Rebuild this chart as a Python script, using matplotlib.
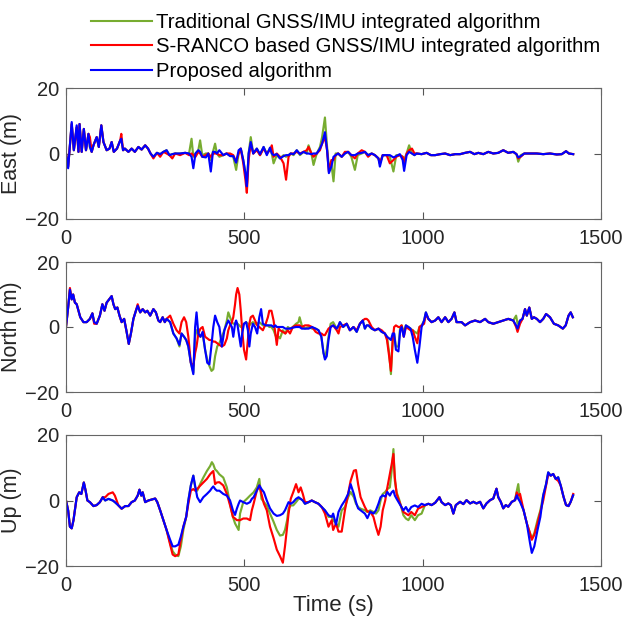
import matplotlib
matplotlib.use("Agg")
import matplotlib.pyplot as plt
from matplotlib.lines import Line2D

plt.rcParams['font.family'] = ['Liberation Sans', 'DejaVu Sans']

series_labels = ["Traditional GNSS/IMU integrated algorithm",
                 "S-RANCO based GNSS/IMU integrated algorithm",
                 "Proposed algorithm"]
panel_labels = ["East (m)", "North (m)", "Up (m)"]
x_ticks = [0, 500, 1000, 1500]
y_ticks = [-20, 0, 20]

# ---------------- East ----------------
east_t = [0, 6, 16, 22, 30, 35, 38, 44, 50, 56,
          63, 67, 72, 77, 86, 92, 99, 105, 114, 122,
          128, 134, 143, 152, 155, 160, 165, 175, 184, 193,
          203, 212, 222, 230, 237, 245, 255, 264, 273, 282,
          290, 298, 306, 320, 334, 345, 352, 357, 363, 371,
          376, 382, 392, 399, 406, 412, 418, 423, 430, 441,
          450, 460, 469, 477, 484, 490, 497, 503, 507, 512,
          518, 525, 535, 544, 554, 563, 572, 577, 582, 591,
          600, 610, 617, 624, 630, 638, 647, 656, 666, 675,
          680, 688, 694, 703, 712, 718, 726, 732, 737, 744,
          750, 756, 763, 773, 782, 791, 800, 810, 818, 829,
          838, 847, 857, 866, 876, 880, 888, 899, 908, 918,
          926, 936, 944, 948, 955, 962, 970, 977, 983, 997,
          1011, 1023, 1035, 1049, 1063, 1077, 1091, 1105, 1119, 1133,
          1145, 1156, 1170, 1184, 1198, 1212, 1226, 1240, 1254, 1263,
          1268, 1275, 1285, 1301, 1320, 1338, 1357, 1376, 1390, 1402,
          1410, 1422]
east_trad = [0, -4, 9, 1, 8, 0.5, 9, 0.5, 7.5, 1,
             6, 2, 0.5, 2.5, 5, 2, 8.6, 3.5, 1, 1.5,
             3.5, 0.5, 1.5, 4, 4.5, 1, 1.5, 0.5, 1.5, 0.5,
             2, 1.2, 2.5, 1.5, 0, -1, 0.2, -0.2, 0.5, 1,
             -0.5, -0.2, 0, 0, 0.2, 0, 4.5, -1, 0, 1,
             4, -0.5, 0, 0, -2, 0.5, 3, 0, -1, -0.5,
             0, -0.5, -1, -5, 0, 1.5, -2, -6, -10, 0,
             5, 0, 1.5, -0.5, 2, 0, 1.5, 0, -3, -0.5,
             -1.5, -0.5, -1, -0.5, 0, -0.5, 1, -0.5, 0.5, 0,
             2.5, 0, -3.5, 0, 2, 5, 11, 2, -4, -3,
             -8.5, 0, 0, -1, 0, 0.5, -1, -5, -0.5, 0,
             0.5, -0.5, 0, -0.5, -1.5, -3, -0.5, -0.5, -1, -5.5,
             -0.5, -0.5, -1, -2, 0, 2.5, 0, -0.5, 0, -0.2,
             0.2, -0.5, -0.5, -0.2, 0, -0.5, -0.2, -0.2, 0.2, 0.5,
             -0.2, 0.2, -0.2, 0.5, 0, 0.2, 1, 0.2, 0.5, -0.2,
             -2.5, -0.5, 0, 0, 0, -0.2, 0, -0.3, -0.2, 0.7,
             0, -0.2]
east_sranco = [0, -4, 9, 1, 8, 0.5, 9, 0.5, 7.5, 1,
               6, 5, 0.5, 2.5, 5, 2, 8.6, 3.5, 1, 1.5,
               3.5, 0.5, 1.5, 4, 6, 1, 1.5, 0.5, 1.5, 0.5,
               2, 1.2, 2.5, 1.5, 0, -1.5, 0.2, -1, 0.5, 0,
               -0.5, -1.5, 0, -0.5, 0.2, -0.5, 0, -0.5, -1, 0.5,
               0, -1, -0.5, 0, -1, 0, 0, 0, -0.5, -0.5,
               0, 0, -0.5, -2.5, 0, 1.5, -3, -8, -12, -2,
               3, 0, 1, -0.5, 1.5, 0, 1, 2.5, -1, 0,
               -1, -3, -8, -1, 0, 0, 0.5, 0, 0.5, 1,
               2, 0, -1, 0, 1, 3, 5, 1, -5.5, -2,
               -2, -0.5, 0, -1, 0.5, 0.5, -0.5, -1.5, 0, 1,
               0.5, -1, 0, -0.5, -1.5, -3, -0.5, -0.5, -3, -2,
               -1, -0.5, -1, -3, 0, 1, 1.5, 0, 0, -0.2,
               0.2, -0.5, -0.5, -0.2, 0, -0.5, -0.2, -0.2, 0.2, 0.5,
               -0.2, 0.2, -0.2, 0.5, 0, 0.2, 1, 0.2, 0.5, -0.2,
               -1.5, -1, 0, 0, 0, -0.2, 0, -0.3, -0.2, 0.7,
               0, -0.2]
east_prop = [0, -4.5, 9.6, 1, 8.6, 0.5, 9, 0.5, 7.5, 1,
             6, 2, 0.5, 2.5, 5, 2, 8.6, 3.5, 1, 1.5,
             3.5, 0.5, 1.5, 4, 4.5, 1, 1.5, 0.5, 1.5, 0.5,
             2, 1.2, 2.5, 1.5, 0, -1, 0.2, -0.2, 0.5, 1,
             -0.5, -0.2, 0, 0, 0.2, 0, -1, -4.5, 0, 1,
             0.5, -1, -1.2, 0, -5.5, 0.5, 0.5, 0, 1, -0.5,
             0, -0.8, -0.8, -2.8, 1, 1.5, -2, -6, -10, 0,
             3.5, 0, 1.5, -0.2, 2, -0.5, 1.8, 0, -0.5, -0.2,
             -1.5, -0.8, -0.5, -0.5, 0, -0.2, 1, -0.2, 0.5, 0,
             0, -0.2, 0, 0, 1.5, 3, 6.5, 1, -6, -4,
             -1, -0.5, 0, -1, 0, 0.5, -0.5, -0.5, 0, 0.2,
             0.5, -0.5, 0, -0.5, -1.5, -4, -0.5, -0.5, -0.5, -1.2,
             -0.8, -0.2, -2, -5.3, -0.5, 0.5, 0, -0.5, 0, -0.2,
             0.2, -0.5, -0.5, -0.2, 0, -0.5, -0.2, -0.2, 0.2, 0.5,
             -0.2, 0.2, -0.2, 0.5, 0, 0.2, 1, 0.2, 0.5, -0.2,
             -1.2, -0.8, 0, 0, 0, -0.2, 0, -0.3, -0.2, 0.7,
             0, -0.2]

# ---------------- North ----------------
north_t = [0, 6, 11, 16, 20, 25, 30, 35, 40, 49,
           58, 67, 74, 79, 86, 95, 102, 108, 114, 121,
           128, 133, 138, 144, 150, 156, 163, 170, 176, 182,
           189, 196, 201, 208, 215, 222, 228, 236, 245, 252,
           259, 264, 271, 277, 282, 292, 301, 310, 318, 324,
           331, 337, 343, 350, 357, 362, 366, 371, 377, 383,
           390, 396, 402, 408, 413, 418, 424, 430, 437, 444,
           451, 455, 460, 465, 469, 474, 477, 481, 486, 490,
           494, 499, 505, 510, 514, 518, 524, 530, 536, 542,
           547, 552, 560, 566, 570, 576, 582, 587, 591, 596,
           600, 608, 615, 622, 628, 636, 645, 652, 655, 661,
           670, 680, 690, 700, 708, 716, 722, 726, 731, 736,
           742, 749, 759, 764, 768, 777, 787, 796, 806, 815,
           824, 832, 838, 843, 848, 857, 866, 876, 885, 894,
           900, 906, 911, 916, 920, 925, 932, 937, 941, 947,
           953, 960, 966, 972, 978, 985, 991, 997, 1004, 1009,
           1016, 1025, 1035, 1044, 1053, 1063, 1072, 1081, 1089, 1095,
           1109, 1119, 1133, 1147, 1161, 1175, 1184, 1198, 1212, 1226,
           1240, 1254, 1262, 1266, 1273, 1280, 1287, 1292, 1299, 1306,
           1312, 1320, 1329, 1338, 1346, 1357, 1368, 1380, 1393, 1401,
           1409, 1415, 1421]
north_trad = [0, 6, 11.5, 8.5, 10, 7.5, 7, 5, 3, 1.5,
              1.5, 2.5, 4.2, 1.5, 1, 3.5, 7, 5, 7.5, 8.5,
              9.5, 7, 5.5, 6, 3.5, 1.5, 2.5, -1.5, -5.2, -2,
              2.5, 5, 6.5, 4.5, 5.5, 4.5, 5, 3.5, 5.5, 4.5,
              2, 1.5, 3, 1.5, 2.5, 1.5, -2, -3.5, -6, -2,
              -3, -4, -6, -11, -14, -3, -1, -2, -3, -2,
              -7, -10, -12, -13.5, -13, -9, -6, -5, -3, -1,
              2, 4.5, 3, 1.5, 1, 1, 1.5, 1, 0.5, 0,
              0.5, 1, 1.5, 1, 0.5, 1, 1.5, 1, 1, 1.5,
              1, 0.5, 0.5, 0.5, 0, 0, -1, -2.5, -3.5, -3,
              -3.5, -1, -2, 0, -0.5, 0, 1, 1.5, 3, 0.5,
              -0.5, 0, -0.5, -0.5, -1, -3, -8, -9.5, -7, -3,
              1, 1.5, -0.5, 0, 1.5, 0, 1, -1, 0, -1.5,
              1, 2, -0.5, 0.5, 0.5, -0.5, -1, -0.5, -1.5, -2,
              -3, -8, -14.5, -4, -2, -6, -6, 0, 0.5, -1.5,
              0.5, 0, -0.5, -1, -1.5, -2, 0, 0.5, 2, 4.5,
              2.5, 1.5, 2, 3, 1.5, 3, 1.5, 2.5, 4.5, 1.5,
              1.5, 0.5, 1.5, 2, 1.5, 2.5, 1.5, 1, 1.5, 2,
              2.5, 2, 3.5, 1, 2, 2.5, 5.5, 3.5, 6, 2.5,
              3, 2.5, 1.5, 2.5, 4, 3, 1, 0.5, -0.5, 0.5,
              3.5, 4.5, 3]
north_sranco = [0, 6, 12, 8.5, 10, 7.5, 7, 5, 3, 1.5,
                1.5, 2.5, 4.2, 1, 1, 3.5, 7, 5, 7.5, 8.5,
                9.5, 7, 5.5, 6, 3.5, 1.5, 2.5, -1.5, -5.2, -2,
                2.5, 5, 7, 4.5, 5.5, 4.5, 5, 3.5, 5.5, 4.5,
                2, 1.5, 3, 1.5, 2.5, 3.5, 1, -1, -2, 1.5,
                3, 1.5, -3, -11, -12, -8, -6, -2, -0.5, 0,
                -3, -3.5, -4, -4, -4.5, -4.5, -5, -5.5, -6, -5.5,
                -3.5, -1, 0.5, 1.5, 3, 7, 10, 12, 10, 5,
                -1, -7, -10, -4, 1, 3, 3.5, 2, 0.5, 0,
                -0.5, -1, 1, 3, 5, 5, 2, -2, -5.5, -0.5,
                -1, -1.5, -2, -1, -2, 0, 0.5, 0.5, 0.5, 0,
                0.5, 0.5, 0, -1.5, -2, -2, -2.5, -2.5, -1.5, -0.5,
                0, 0.5, -1, -2, 0, 0.5, 1, -1, 0, -1,
                1, 2, 2.5, 2.5, 2, 0, -1, -0.5, -1, -2,
                -4, -9, -13.5, -4, 0, 0.5, 0, 0, 0.5, -3,
                0, -0.5, -1, -1, -3, -5, 0, 0.5, 1, 4,
                2.5, 1.5, 2, 3, 1.5, 3, 1.5, 2.5, 4.5, 1.5,
                1.5, 0.5, 1.5, 2, 1.5, 2.5, 1.5, 1, 1.5, 2,
                2.5, 2, 0, -1.5, 1, 2.5, 5.5, 3.5, 6, 2.5,
                3, 2.5, 1.5, 2.5, 4, 3, 1, 0.5, -0.5, 0.5,
                3.5, 4.5, 3]
north_prop = [0, 6, 11.5, 8.5, 10, 7.5, 7, 5, 3, 1.5,
              1.5, 2.5, 4.2, 1.5, 1, 3.5, 7, 5, 7.5, 8.5,
              9.5, 7, 5.5, 6, 3.5, 1.5, 2.5, -1.5, -5.2, -2,
              2.5, 5, 6.5, 4.5, 5.5, 4.5, 5, 3.5, 5.5, 4.5,
              2, 1.5, 3, 1.5, 2.5, 1.5, -2, -3.5, -5.5, -2,
              -3, -4, -6, -11, -14.5, 0, 4.5, -2, -3, -1.5,
              -7, -11, -11.5, -5.5, 0, 3.5, 1.5, 0, -6, -1,
              1, 2, 1, 0, -3, 1, 2, 0.5, -3, -6,
              -2, 1, 1.5, -1, -6, -2, 1, 0, -2, 3,
              5.5, 1, 0.5, 0.5, 0.5, 0.5, 0, 0.5, 0, 0,
              0, 0, -0.5, -0.5, -0.5, -0.2, 0, 0, 0, -0.5,
              -0.5, -0.5, 0, -0.5, -1, -3, -8, -10, -9, -4,
              0, 0.5, -0.5, 0.5, 1.5, 0, 1, -1, 0, -1.5,
              1, 2, -0.5, 0.5, 0.5, -0.5, -1, -0.5, -1.5, -2,
              -3, -3.5, -4, -2, -2, -7, -7.5, -1, 0, -3,
              0.5, 0, -0.5, -3, -7, -11, -6, 0, 2, 4.5,
              2.5, 1.5, 2, 3, 1.5, 3, 1.5, 2.5, 4.5, 1.5,
              1.5, 0.5, 1.5, 2, 1.5, 2.5, 1.5, 1, 1.5, 2,
              2.5, 2, 0.5, -0.5, 2, 2.5, 5.5, 3.5, 6, 2.5,
              3, 2.5, 1.5, 2.5, 4, 3, 1, 0.5, -0.5, 0.5,
              3.5, 4.5, 3]

# ---------------- Up ----------------
up_t = [0, 6, 11, 16, 21, 30, 37, 43, 50, 55,
        60, 67, 77, 86, 95, 103, 110, 119, 131, 137,
        147, 156, 166, 175, 184, 193, 201, 206, 211, 215,
        222, 231, 240, 250, 256, 264, 273, 282, 292, 299,
        306, 315, 322, 329, 337, 343, 350, 357, 362, 368,
        376, 385, 395, 404, 409, 413, 418, 423, 430, 441,
        451, 460, 468, 474, 479, 484, 488, 497, 507, 516,
        521, 526, 535, 542, 548, 555, 563, 572, 582, 591,
        600, 608, 614, 620, 624, 630, 637, 645, 652, 658,
        664, 670, 680, 689, 698, 708, 717, 726, 736, 745,
        749, 757, 764, 773, 782, 791, 798, 807, 813, 819,
        826, 838, 845, 853, 862, 869, 876, 882, 888, 895,
        901, 908, 913, 918, 922, 927, 935, 946, 953, 960,
        968, 978, 987, 997, 1006, 1016, 1025, 1035, 1047, 1053,
        1063, 1072, 1079, 1086, 1093, 1105, 1114, 1123, 1133, 1142,
        1151, 1161, 1170, 1179, 1189, 1198, 1207, 1212, 1219, 1226,
        1233, 1240, 1250, 1259, 1264, 1268, 1273, 1283, 1292, 1301,
        1306, 1313, 1322, 1330, 1338, 1346, 1352, 1359, 1366, 1373,
        1380, 1387, 1395, 1402, 1409, 1415, 1422]
up_trad = [0, -3, -8, -8.5, -6, 1, 2.5, 2, 5.5, 3,
           0, -0.5, -1.7, -1.4, -0.5, 1, 0, 0.5, 0, -0.5,
           -1.5, -2.5, -1.7, -1.7, -0.5, 0, 1.5, 3.3, 1.5, 2.5,
           -0.5, 0, 0.3, 0.6, -0.5, -3, -6, -9, -13, -15.5,
           -16.5, -17, -14, -9, -5, 0, 4.6, 7.6, 4, 3,
           5, 7, 9, 10.5, 11.7, 11, 9.5, 9, 8, 7,
           4, -1, -5, -7, -8, -9, -4, -0.5, 0.5, 1.5,
           2, 2.5, 4, 6.6, 0.5, -0.5, -1.5, -4, -6.5, -9,
           -10.7, -10.5, -9, -6, -2.5, -1.5, -1.5, -0.5, 0.5, 0.5,
           0, -1, -0.5, 0, -0.5, -1, -2, -3, -5, -5,
           -6, -7, -8, -3, -2, 1, 2.6, 1, -1, -2,
           -2.5, -3, -3.5, -3, -3.5, -4, -3, 0, 2, 2.6,
           3.5, 4, 9, 15.7, 6, 2.5, 0, -4.5, -5.5, -6,
           -4.5, -6, -4.5, -4, -1.5, -1, -1.4, -0.7, 1, -0.5,
           -1.4, -0.9, -1.4, -4, -1.4, -0.4, -1.1, 0.1, -0.9, -0.4,
           -0.9, -0.4, -2.4, -0.9, 0.1, 0.6, 3.6, 1, -0.4, -2.4,
           -1.4, -1.9, -0.4, 0.1, 3, 5, 0, -3, -7, -10,
           -11.5, -10, -6, -3, 1.6, 5, 8.6, 7.6, 8.1, 6.6,
           7.1, 4.6, 1.1, -1.4, -1.7, -0.4, 1.6]
up_sranco = [0, -3, -8, -8.5, -6, 1, 2.5, 2, 5.5, 3,
             0, -0.5, -1.7, -1.4, -0.5, 1, 1, 2, 2.5, 1.5,
             -1.5, -2.5, -1.7, -1.7, -0.5, 0, 1.5, 3.3, 1.5, 2.5,
             -0.5, 0, 0.3, 0.6, -0.5, -3, -6, -9, -13.5, -16.5,
             -17, -16.5, -12, -8, -5, -1, 3, 3.5, 3, 3.5,
             4.5, 5.5, 6.6, 8, 8.6, 9, 5, 5.5, 5.6, 4.6,
             2, -1.5, -5, -5.5, -6, -6, -6, -5.5, -5.5, -6,
             -3, -1, 3, 4.6, 2, -1, -3, -8, -11.5, -15,
             -17, -19, -14, -8, -4, 0.5, 2.5, 5, 2.5, 4,
             2, -0.5, -0.5, 0, -0.5, -1, -2, -4, -8, -6,
             -9, -7, -9.5, -9.5, -3, 2, 6, 9.1, 9.3, 5,
             1, -2, -3.4, -3.4, -5, -8, -10.5, -8, -3, 0,
             4, 8.1, 11, 14.2, 7, 2, -0.5, -3.5, -4, -4.5,
             -3.5, -4.5, -2.5, -2, -1.5, -1, -1.4, -0.7, 1, -0.5,
             -1.4, -0.9, -1.4, -4, -1.4, -0.4, -1.1, 0.1, -0.9, -0.4,
             -0.9, -0.4, -2.4, -0.9, 0.1, 0.6, 3.6, 1, -0.4, -2.4,
             -1.4, -1.9, -0.4, 0.1, 2.5, 1.5, 2, -3, -7, -10,
             -12, -10.5, -7, -3.5, 0, 4.5, 8, 7.6, 8.1, 6.6,
             6, 4.6, 1.1, -1.4, -1.7, -0.4, 2]
up_prop = [0, -3, -8, -8.5, -6, 1, 2.5, 2, 5.5, 3,
           0, -0.5, -1.7, -1.4, -0.5, 1, 0, 0.5, 0, -0.5,
           -1.5, -2.5, -1.7, -1.7, -0.5, 0, 1.5, 3.3, 1.5, 2.5,
           -0.5, 0, 0.3, 0.6, -0.5, -3, -6, -9, -12, -14,
           -14, -13.5, -11, -8, -5, 0, 4.6, 7.6, 4.5, 1,
           -0.5, 1, 2, 3, 3.8, 4.3, 3.5, 3, 3, 2,
           1.5, 0, -3, -4.4, -2.5, -1, 0, -0.5, -1, -0.5,
           0.5, 1, 3, 4.6, 3.5, 2.5, 0, -2.4, -4, -4.7,
           -4.5, -4, -3, -1.5, -0.5, -1, -0.5, 0.5, 1, 0.5,
           0, -1, -0.5, 0, -0.5, -1, -2, -3, -4.5, -5,
           -4, -7.4, -3.5, -1.5, 0, 2, 5, 2, -0.5, -2.4,
           -3, -4, -5.4, -3.4, -4, -3, -1, 1, 1.6, 1.2,
           2.6, 1.5, 2.5, 3, 1.5, 0.5, -1, -3, -2, -3.4,
           -2, -1.5, -2, -1, -1.4, -1, -1.4, -0.7, 1, -0.5,
           -1.4, -0.9, -1.4, -4, -1.4, -0.4, -1.1, 0.1, -0.9, -0.4,
           -0.9, -0.4, -2.4, -0.9, 0.1, 0.6, 3.6, 1, -0.4, -2.4,
           -1.4, -1.9, -0.4, 0.1, 1.6, 0.5, -0.4, -3, -7, -13,
           -16, -14, -9, -5, 1.6, 5, 8.6, 7.6, 8.1, 6.6,
           7.1, 4.6, 1.1, -1.4, -1.7, -0.4, 1.6]

colors = ['#77AC30', '#FF0000', '#0000FF']

W, H = 628, 617
fig = plt.figure(figsize=(W / 100, H / 100), dpi=100)

ax_rects = [(66, 88, 601, 219), (66, 262, 601, 392), (66, 435, 601, 566)]
panels = [(east_t, east_trad, east_sranco, east_prop),
          (north_t, north_trad, north_sranco, north_prop),
          (up_t, up_trad, up_sranco, up_prop)]

axes = []
for (x0, y0, x1, y1), (t, g, r, b), lab in zip(ax_rects, panels, panel_labels):
    ax = fig.add_axes([x0 / W, 1 - y1 / H, (x1 - x0) / W, (y1 - y0) / H])
    for vals, c in zip((g, r, b), colors):
        ax.plot(t, vals, color=c, lw=1.55, solid_joinstyle='round')
    ax.set_xlim(0, 1500)
    ax.set_ylim(-20, 20)
    ax.set_xticks(x_ticks)
    ax.set_yticks(y_ticks)
    ax.tick_params(direction='in', top=True, right=True, labelsize=14.5,
                   length=5, width=0.8, color='#555555', labelcolor='#262626')
    ax.tick_params(axis='x', pad=7)
    ax.tick_params(axis='y', pad=5)
    for s in ax.spines.values():
        s.set_color('#666666')
        s.set_linewidth(0.8)
    ax.set_ylabel(lab, fontsize=15.5, color='#262626', labelpad=2)
    axes.append(ax)

axes[-1].set_xlabel('Time (s)', fontsize=16, color='#262626', labelpad=0)

handles = [Line2D([], [], color=c, lw=1.5) for c in colors]
fig.legend(handles, series_labels, loc='upper left',
           bbox_to_anchor=(91 / W, 1 - 13 / H), frameon=False, fontsize=14.6,
           handlelength=3.0, handletextpad=0.2, labelspacing=0.27,
           borderpad=0, borderaxespad=0)

fig.savefig('out.png', dpi=100)
